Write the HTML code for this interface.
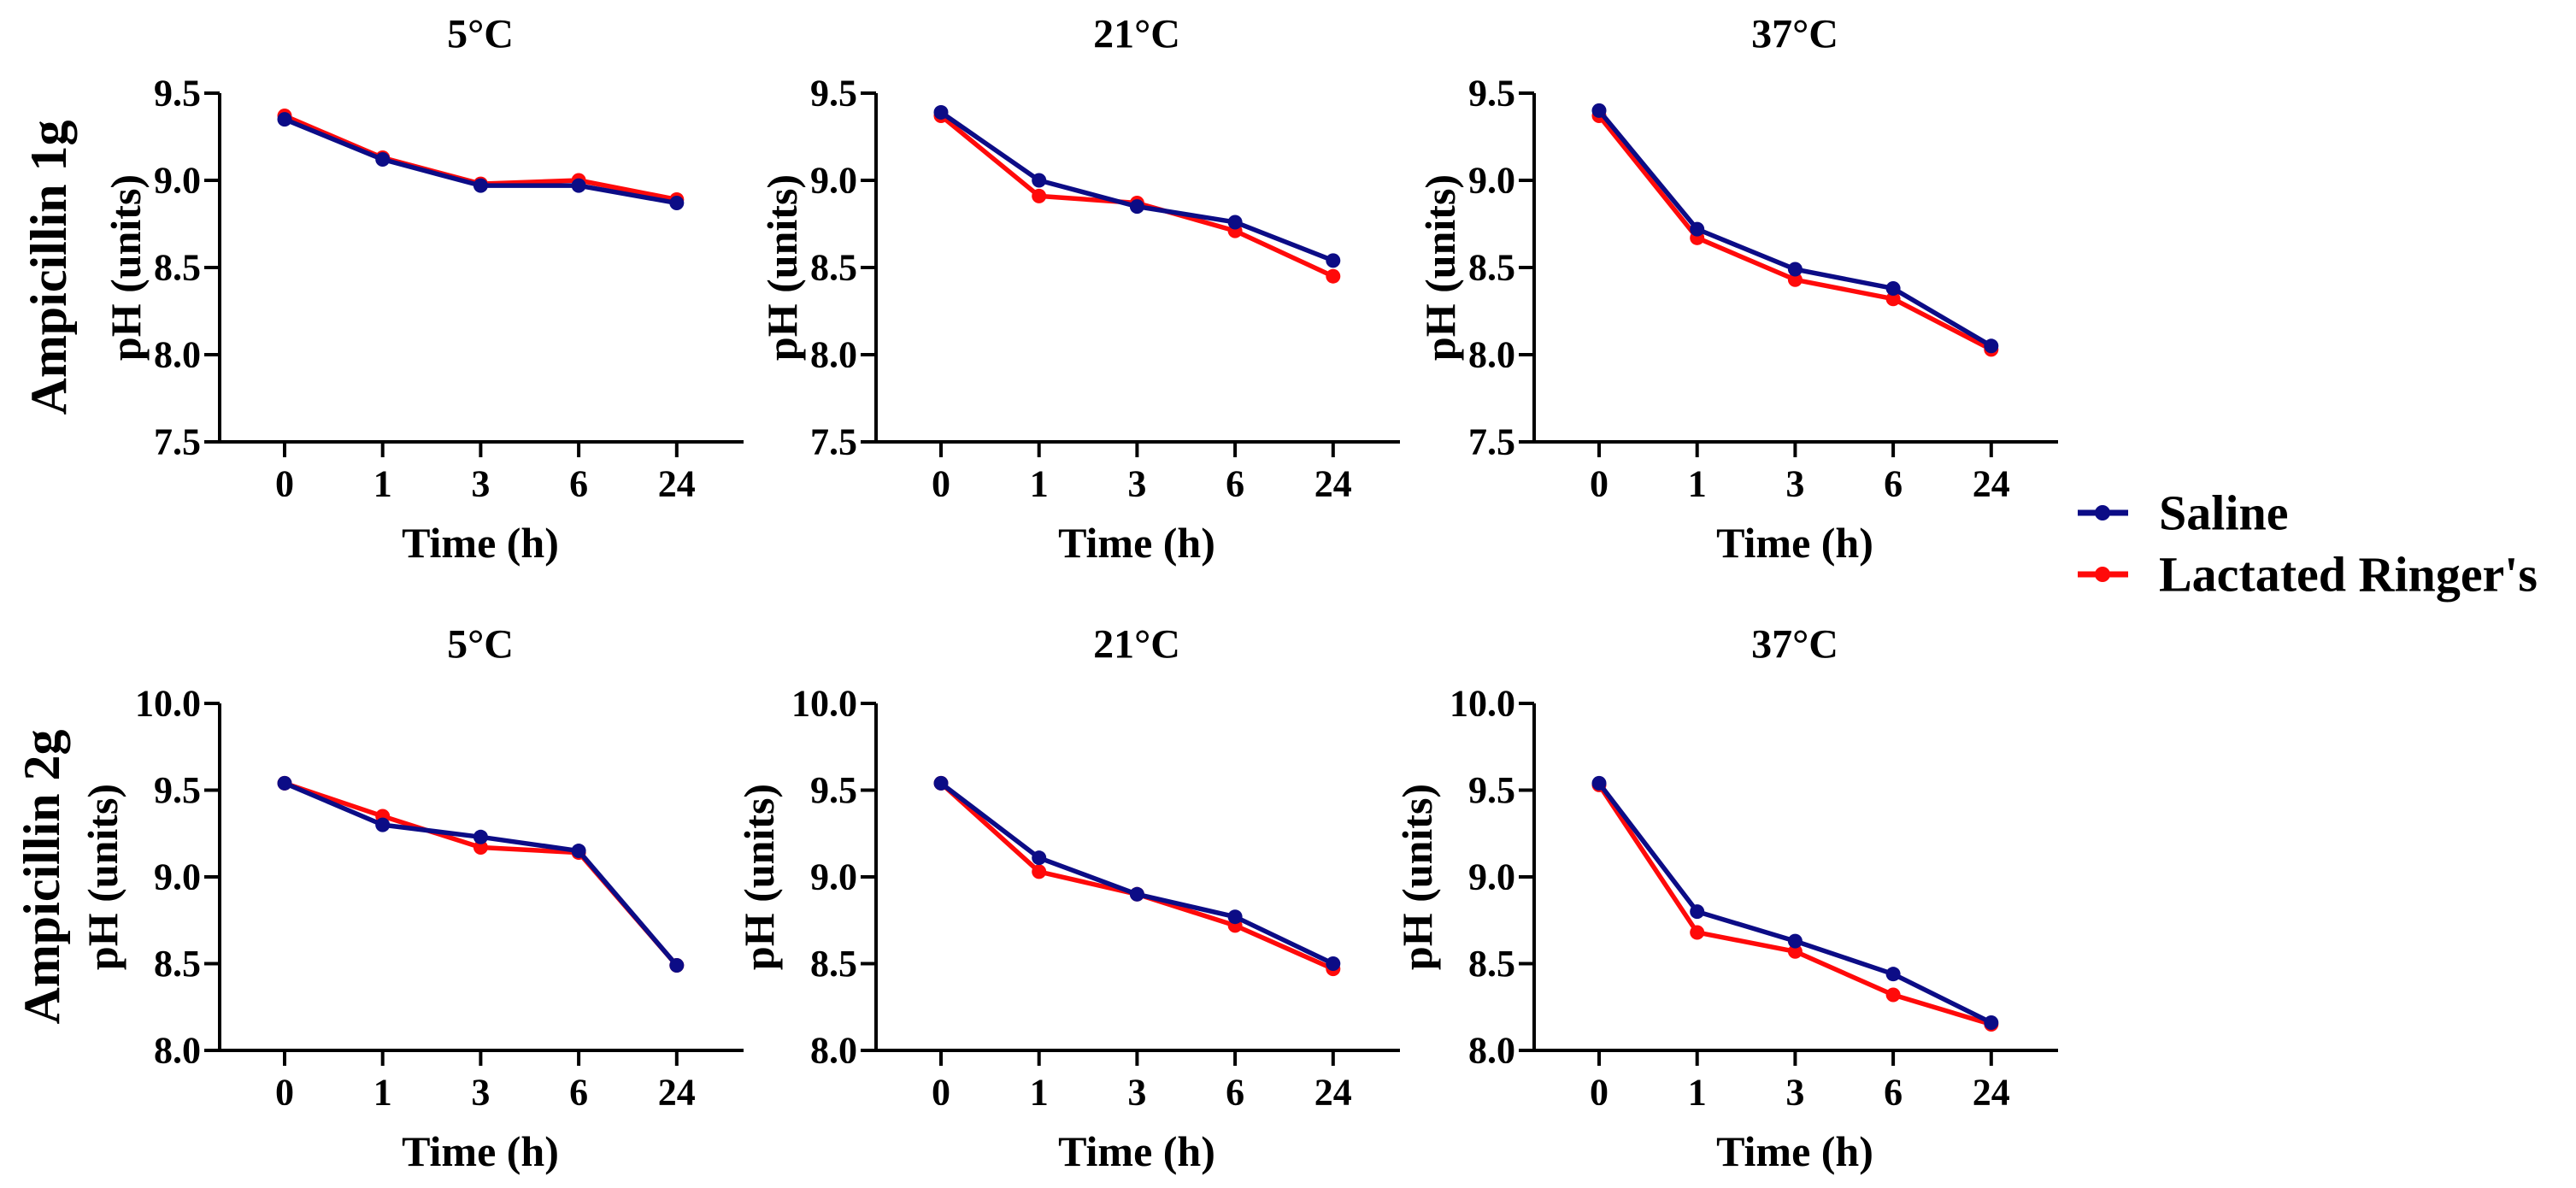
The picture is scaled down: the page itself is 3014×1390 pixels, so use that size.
<!DOCTYPE html>
<html><head><meta charset="utf-8"><style>
html,body{margin:0;padding:0;background:#fff;}
svg{display:block;font-family:"Liberation Serif",serif;font-weight:bold;}
</style></head><body>
<svg id="fig" width="3014" height="1390" viewBox="0 0 3014 1390"></svg>
<script>
const categories = ["0","1","3","6","24"];
const panelTitles = ["5°C","21°C","37°C"];
const rowLabels = ["Ampicillin 1g","Ampicillin 2g"];
const row1Ticks = ["7.5","8.0","8.5","9.0","9.5"];
const row2Ticks = ["8.0","8.5","9.0","9.5","10.0"];
const salineR1P1 = [9.35, 9.12, 8.97, 8.97, 8.87];
const ringerR1P1 = [9.37, 9.13, 8.98, 9.00, 8.89];
const salineR1P2 = [9.39, 9.00, 8.85, 8.76, 8.54];
const ringerR1P2 = [9.37, 8.91, 8.87, 8.71, 8.45];
const salineR1P3 = [9.40, 8.72, 8.49, 8.38, 8.05];
const ringerR1P3 = [9.37, 8.67, 8.43, 8.32, 8.03];
const salineR2P1 = [9.54, 9.30, 9.23, 9.15, 8.49];
const ringerR2P1 = [9.54, 9.35, 9.17, 9.14, 8.49];
const salineR2P2 = [9.54, 9.11, 8.90, 8.77, 8.50];
const ringerR2P2 = [9.54, 9.03, 8.90, 8.72, 8.47];
const salineR2P3 = [9.54, 8.80, 8.63, 8.44, 8.16];
const ringerR2P3 = [9.53, 8.68, 8.57, 8.32, 8.15];
const legendLabels = ["Saline","Lactated Ringer's"];

const NS="http://www.w3.org/2000/svg";
const svg=document.getElementById('fig');
function mk(tag,attrs,parent){const e=document.createElementNS(NS,tag);for(const k in attrs)e.setAttribute(k,attrs[k]);(parent||svg).appendChild(e);return e;}
const BLUE="#0c0c86", RED="#ff0a0a";
const rows=[
 {top:109,bottom:517,ticks:row1Ticks,min:7.5,max:9.5,data:[[salineR1P1,ringerR1P1],[salineR1P2,ringerR1P2],[salineR1P3,ringerR1P3]],pHx:147,ampX:57},
 {top:823,bottom:1229,ticks:row2Ticks,min:8.0,max:10.0,data:[[salineR2P1,ringerR2P1],[salineR2P2,ringerR2P2],[salineR2P3,ringerR2P3]],pHx:120,ampX:49}
];
const panelX=[0,768,1538];
rows.forEach((r,ri)=>{
  const amp=mk('text',{x:r.ampX,y:(r.top+r.bottom)/2,'font-size':60,'text-anchor':'middle','dominant-baseline':'central',transform:`rotate(-90 ${r.ampX} ${(r.top+r.bottom)/2})`});
  
  
  amp.textContent=rowLabels[ri];
  panelX.forEach((ox,pi)=>{
    const g=mk('g',{});
    
    
    const ax=257+ox, xEnd=870+ox;
    const xs=i=>333+ox+i*114.7;
    const ys=v=>r.bottom-(v-r.min)/(r.max-r.min)*(r.bottom-r.top);
    const t=mk('text',{x:562+ox,y:r.top-69,'font-size':48,'text-anchor':'middle','dominant-baseline':'central'},g);
    
    
    t.textContent=panelTitles[pi];
    const yl=mk('text',{x:r.pHx+ox,y:(r.top+r.bottom)/2,'font-size':50,'text-anchor':'middle','dominant-baseline':'central',transform:`rotate(-90 ${r.pHx+ox} ${(r.top+r.bottom)/2})`},g);
    
    
    yl.textContent="pH (units)";
    const axis=mk('path',{d:`M${ax} ${r.top}V${r.bottom}H${xEnd}`,stroke:'#000','stroke-width':4,fill:'none'},g);
    
    
    r.ticks.forEach(tv=>{
      const y=ys(parseFloat(tv));
      mk('line',{x1:ax-18,x2:ax,y1:y,y2:y,stroke:'#000','stroke-width':4},g);
      const tl=mk('text',{x:ax-22,y:y,'font-size':44,'text-anchor':'end','dominant-baseline':'central'},g);
      
      
      tl.textContent=tv;
    });
    categories.forEach((c,i)=>{
      mk('line',{x1:xs(i),x2:xs(i),y1:r.bottom,y2:r.bottom+18,stroke:'#000','stroke-width':4},g);
      const tl=mk('text',{x:xs(i),y:r.bottom+49,'font-size':44,'text-anchor':'middle','dominant-baseline':'central'},g);
      
      
      tl.textContent=c;
    });
    const xt=mk('text',{x:562+ox,y:r.bottom+118,'font-size':50,'text-anchor':'middle','dominant-baseline':'central'},g);
    
    
    xt.textContent="Time (h)";
    const [sal,rin]=r.data[pi];
    [[rin,RED,'ringer'],[sal,BLUE,'saline']].forEach(([vals,col,nm])=>{
      const pts=vals.map((v,i)=>xs(i)+','+ys(v)).join(' ');
      const pl=mk('polyline',{points:pts,stroke:col,'stroke-width':5.5,fill:'none','stroke-linejoin':'round'},g);
      
      
      vals.forEach((v,i)=>{
        const p=mk('circle',{cx:xs(i),cy:ys(v),r:8.5,fill:col},g);
        
        
      });
    });
  });
});
[[BLUE,600],[RED,672]].forEach(([col,y],i)=>{
  const g=mk('g',{});
  
  
  mk('line',{x1:2431,x2:2490,y1:y,y2:y,stroke:col,'stroke-width':7},g);
  mk('circle',{cx:2460,cy:y,r:9,fill:col},g);
  const t=mk('text',{x:2526,y:y,'font-size':58,'dominant-baseline':'central'},g);
  
  
  t.textContent=legendLabels[i];
});
</script>
</body></html>
